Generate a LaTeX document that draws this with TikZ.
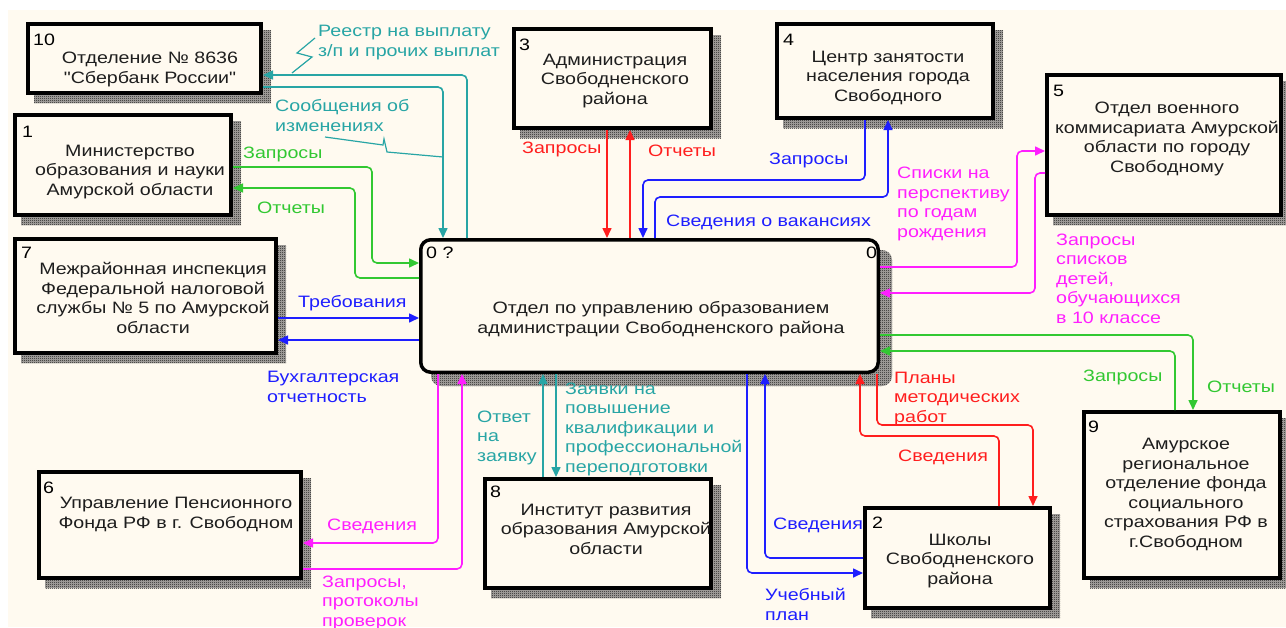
\documentclass[tikz,border=0pt]{standalone}
\usepackage{fontspec}
\newfontfamily\diagfont{Liberation Sans}[FakeStretch=1.19]
\usetikzlibrary{arrows.meta,patterns,backgrounds}
\definecolor{cream}{RGB}{255,250,240}
\definecolor{txt}{RGB}{30,30,30}
\definecolor{cteal}{RGB}{40,165,165}
\definecolor{cgreen}{RGB}{50,200,50}
\definecolor{cblue}{RGB}{30,30,255}
\definecolor{cred}{RGB}{255,30,30}
\definecolor{cmag}{RGB}{255,30,255}
\definecolor{shadowc}{RGB}{20,20,20}
\definecolor{shadowbg}{RGB}{175,172,168}
\pgfdeclarepatternformonly{checker}{\pgfpointorigin}{\pgfpoint{2pt}{2pt}}{\pgfpoint{2pt}{2pt}}{%
  \pgfpathrectangle{\pgfpointorigin}{\pgfpoint{1pt}{1pt}}%
  \pgfpathrectangle{\pgfpoint{1pt}{1pt}}{\pgfpoint{1pt}{1pt}}%
  \pgfusepath{fill}}
\begin{document}
\begin{tikzpicture}[x=1pt,y=-1pt,
  font=\diagfont\fontsize{16.5}{19.5}\selectfont,
  ebox/.style={draw=black, line width=4pt, fill=cream, inner sep=0pt, anchor=north west, rectangle},
  mbox/.style={ebox, line width=3.5pt, rounded corners=10pt},
  shad/.style={fill=shadowbg, postaction={pattern=checker, pattern color=shadowc}},
  btext/.style={align=center, anchor=base, text=txt, inner sep=0pt},
  num/.style={anchor=base west, inner sep=0pt, text=black},
  lbl/.style={align=left, anchor=base west, inner sep=0pt},
  conn/.style={line width=1.6pt, rounded corners=5pt, -{Triangle[length=10pt,width=9pt]}},
  squig/.style={line width=1.2pt, cteal}]
\useasboundingbox (0,0) rectangle (1286,627);

% boxes
\node[ebox, minimum width=233pt, minimum height=69pt] (b10) at (26,22) {};
\node[ebox, minimum width=216pt, minimum height=100pt] (b1) at (13,113) {};
\node[ebox, minimum width=261pt, minimum height=114pt] (b7) at (13,237) {};
\node[ebox, minimum width=197pt, minimum height=99pt] (b3) at (512,27) {};
\node[ebox, minimum width=216pt, minimum height=94pt] (b4) at (775,22) {};
\node[ebox, minimum width=234pt, minimum height=140pt] (b5) at (1045,73) {};
\node[ebox, minimum width=262pt, minimum height=106pt] (b6) at (37,470) {};
\node[ebox, minimum width=226pt, minimum height=109pt] (b8) at (483,477) {};
\node[ebox, minimum width=185pt, minimum height=100pt] (b2) at (863,506) {};
\node[ebox, minimum width=196pt, minimum height=166pt] (b9) at (1082,410) {};
\node[mbox, minimum width=457.5pt, minimum height=132.5pt] (b0) at (419,238) {};

\begin{scope}[on background layer]
  \fill[white] (0,0) rectangle (1286,627);
  \fill[cream] (8,10) rectangle (1286,627);
  \foreach \n in {b10,b1,b7,b3,b4,b5,b6,b8,b2,b9}
    \path[shad] ([shift={(8,8)}]\n.north west) rectangle ([shift={(8,8)}]\n.south east);
  \path[shad, rounded corners=10pt] ([shift={(12,12)}]b0.north west) rectangle ([shift={(12,12)}]b0.south east);
\end{scope}

% box texts (anchor = baseline of last line)
\node[btext] (t10) at (150,83) {Отделение № 8636\\"Сбербанк России"};
\node[btext] (t1) at (130,195) {Министерство\\образования и науки\\Амурской области};
\node[btext] (t7) at (153,333) {Межрайонная инспекция\\Федеральной налоговой\\службы № 5 по Амурской\\области};
\node[btext] (t3) at (615,104) {Администрация\\Свободненского\\района};
\node[btext] (t4) at (888,101) {Центр занятости\\населения города\\Свободного};
\node[btext] (t5) at (1167,172) {Отдел военного\\коммисариата Амурской\\области по городу\\Свободному};
\node[btext] (t6) at (176,528) {Управление Пенсионного\\Фонда РФ в г. Свободном};
\node[btext] (t8) at (606,554) {Институт развития\\образования Амурской\\области};
\node[btext] (t2) at (960,584) {Школы\\Свободненского\\района};
\node[btext] (t9) at (1186,547) {Амурское\\региональное\\отделение фонда\\социального\\страхования РФ в\\г.Свободном};
\node[btext] (t0) at (661,333) {Отдел по управлению образованием\\администрации Свободненского района};

% numbers
\node[num] (n10) at (33,45) {10};
\node[num] (n1) at (22,137) {1};
\node[num] (n7) at (21,258) {7};
\node[num] (n3) at (519,50) {3};
\node[num] (n4) at (783,45) {4};
\node[num] (n5) at (1053,96) {5};
\node[num] (n6) at (43,493) {6};
\node[num] (n8) at (490,497) {8};
\node[num] (n2) at (872,528) {2};
\node[num] (n9) at (1088,432) {9};
\node[num] (n0a) at (426,258) {0 ?};
\node[num] (n0b) at (866,258) {0};

% teal connectors
\draw[conn, cteal] (b0.north -| 467,0) |- (b10.east |- 0,75);
\draw[conn, cteal] (b10.east |- 0,87) -| (b0.north -| 443,0);
\draw[conn, cteal] (b8.north -| 543,0) -- (b0.south -| 543,0);
\draw[conn, cteal] (b0.south -| 556,0) -- (b8.north -| 556,0);
% green
\draw[conn, cgreen] (b1.east |- 0,167) -| (372,263) -- (b0.west |- 0,263);
\draw[conn, cgreen] (b0.west |- 0,278) -| (355,188) -- (b1.east |- 0,188);
\draw[conn, cgreen] (b9.north -| 1175,0) |- (b0.east |- 0,351);
\draw[conn, cgreen] (b0.east |- 0,335) -| (b9.north -| 1193,0);
% blue
\draw[conn, cblue] (b7.east |- 0,318) -- (b0.west |- 0,318);
\draw[conn, cblue] (b0.west |- 0,340) -- (b7.east |- 0,340);
\draw[conn, cblue] (b4.south -| 865,0) |- (643,180) -- (b0.north -| 643,0);
\draw[conn, cblue] (b0.north -| 655,0) |- (888,197) -- (b4.south -| 888,0);
\draw[conn, cblue] (b2.west |- 0,558) -| (b0.south -| 765,0);
\draw[conn, cblue] (b0.south -| 747,0) |- (b2.west |- 0,573);
% red
\draw[conn, cred] (b3.south -| 607,0) -- (b0.north -| 607,0);
\draw[conn, cred] (b0.north -| 630,0) -- (b3.south -| 630,0);
\draw[conn, cred] (b0.south -| 877,0) |- (1033,425) -- (b2.north -| 1033,0);
\draw[conn, cred] (b2.north -| 999,0) |- (860,436) -- (b0.south -| 860,0);
% magenta
\draw[conn, cmag] (b0.east |- 0,267) -| (1017,151) -- (b5.west |- 0,151);
\draw[conn, cmag] (b5.west |- 0,173) -| (1035,293) -- (b0.east |- 0,293);
\draw[conn, cmag] (b0.south -| 438,0) |- (b6.east |- 0,543);
\draw[conn, cmag] (b6.east |- 0,569) -| (b0.south -| 462,0);

% squiggles
\draw[squig] (315,38) -- (297,53) -- (312,57) -- (292,73);
\draw[squig] (325,137) -- (383,145) -- (384,139) -- (387,152) -- (443,157);

% labels (anchor = baseline of last line)
\node[lbl, text=cteal] (l1) at (318,56) {Реестр на выплату\\з/п и прочих выплат};
\node[lbl, text=cteal] (l2) at (275,131) {Сообщения об\\изменениях};
\node[lbl, text=cgreen] (l3) at (243,158) {Запросы};
\node[lbl, text=cgreen] (l4) at (257,213) {Отчеты};
\node[lbl, text=cblue] (l5) at (298,307) {Требования};
\node[lbl, text=cblue] (l6) at (267,402) {Бухгалтерская\\отчетность};
\node[lbl, text=cred] (l7) at (522,153) {Запросы};
\node[lbl, text=cred] (l8) at (648,156) {Отчеты};
\node[lbl, text=cblue] (l9) at (769,164) {Запросы};
\node[lbl, text=cblue] (l10) at (666,226) {Сведения о вакансиях};
\node[lbl, text=cmag] (l11) at (897,237) {Списки на\\перспективу\\по годам\\рождения};
\node[lbl, text=cmag] (l12) at (1056,323) {Запросы\\списков\\детей,\\обучающихся\\в 10 классе};
\node[lbl, text=cgreen] (l13) at (1083,381) {Запросы};
\node[lbl, text=cgreen] (l14) at (1207,392) {Отчеты};
\node[lbl, text=cred] (l15) at (894,422) {Планы\\методических\\работ};
\node[lbl, text=cred] (l16) at (898,461) {Сведения};
\node[lbl, text=cblue] (l17) at (773,529) {Сведения};
\node[lbl, text=cblue] (l18) at (765,620) {Учебный\\план};
\node[lbl, text=cteal] (l19) at (477,461) {Ответ\\на\\заявку};
\node[lbl, text=cteal] (l20) at (565,472) {Заявки на\\повышение\\квалификации и\\профессиональной\\переподготовки};
\node[lbl, text=cmag] (l21) at (327,530) {Сведения};
\node[lbl, text=cmag] (l22) at (322,626) {Запросы,\\протоколы\\проверок};
\end{tikzpicture}
\end{document}
